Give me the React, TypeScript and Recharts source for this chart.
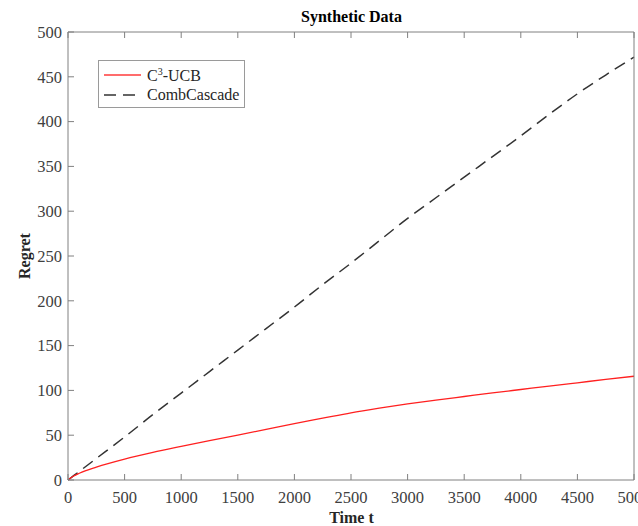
import { LineChart, Line, XAxis, YAxis } from 'recharts'

// time steps and regret
const steps = [0, 50, 100, 250, 500, 750, 1000, 1250, 1500, 1750, 2000, 2250, 2500, 2750, 3000, 3250, 3500, 3750, 4000, 4250, 4500, 4750, 5000]
const c3ucb = [0, 4.5, 7.5, 14.3, 23.3, 30.8, 37.5, 44, 50.2, 56.5, 63, 69, 75, 80.2, 85, 89.2, 93.2, 97.2, 101, 104.8, 108.5, 112.2, 115.8]
const combCascade = [0, 4.8, 9.6, 24, 48, 73, 97, 121, 145, 169, 193, 218, 242, 267, 292, 315, 338, 361, 384, 408, 431, 452, 472]
const xTicks = [0, 500, 1000, 1500, 2000, 2500, 3000, 3500, 4000, 4500, 5000]
const yTicks = [0, 50, 100, 150, 200, 250, 300, 350, 400, 450, 500]

const data = steps.map((t, i) => ({ t, ucb: c3ucb[i], comb: combCascade[i] }))

const font = '"Liberation Serif", "Times New Roman", serif'
const axisGray = '#808080'
const tickStyle = { fill: '#404040', fontSize: 16.5, fontFamily: font }

function LegendBox() {
  return (
    <div style={{
      position: 'absolute', left: 98, top: 60, width: 147, height: 48,
      border: '1px solid #9a9a9a', background: '#fff',
      fontFamily: font, fontSize: 16, color: '#262626', boxSizing: 'border-box', padding: '4px 0 0 5px',
    }}>
      <div style={{ display: 'flex', alignItems: 'center', height: 20 }}>
        <svg width={38} height={10}><line x1={0} y1={5} x2={37} y2={5} stroke="#ff3b3b" strokeWidth={1.5} /></svg>
        <span style={{ marginLeft: 5 }}>C<sup style={{ fontSize: 10, verticalAlign: 6 }}>3</sup>-UCB</span>
      </div>
      <div style={{ display: 'flex', alignItems: 'center', height: 20 }}>
        <svg width={38} height={10}><line x1={0} y1={5} x2={37} y2={5} stroke="#333" strokeWidth={1.5} strokeDasharray="12 7" /></svg>
        <span style={{ marginLeft: 5 }}>CombCascade</span>
      </div>
    </div>
  )
}

export default function App() {
  return (
    <div style={{ position: 'absolute', left: 0, top: 0, width: 638, height: 526, background: '#fff', overflow: 'hidden' }}>
      <div style={{
        position: 'absolute', left: 68, width: 567, top: 8, textAlign: 'center',
        fontFamily: font, fontWeight: 'bold', fontSize: 16, color: '#000',
      }}>Synthetic Data</div>
      <div style={{
        position: 'absolute', left: 68, width: 567, top: 509, textAlign: 'center',
        fontFamily: font, fontWeight: 'bold', fontSize: 16, color: '#262626',
      }}>Time t</div>
      <div style={{
        position: 'absolute', left: 25, top: 256, transform: 'translate(-50%, -50%) rotate(-90deg)',
        fontFamily: font, fontWeight: 'bold', fontSize: 16, color: '#262626', whiteSpace: 'nowrap',
      }}>Regret</div>
      <LineChart width={638} height={526} data={data} margin={{ top: 31, right: 3, bottom: 0, left: 0 }}>
        <XAxis dataKey="t" type="number" domain={[0, 5000]} ticks={xTicks} height={46}
          stroke={axisGray} tickSize={-6} tickMargin={17} tick={tickStyle} interval={0} />
        <XAxis xAxisId="top" orientation="top" dataKey="t" type="number" domain={[0, 5000]} ticks={xTicks}
          height={1} stroke={axisGray} tickSize={-6} tickFormatter={() => ''} interval={0} />
        <YAxis type="number" domain={[0, 500]} ticks={yTicks} width={68}
          stroke={axisGray} tickSize={-6} tickMargin={12} tick={tickStyle} interval={0} />
        <YAxis yAxisId="right" orientation="right" type="number" domain={[0, 500]} ticks={yTicks} width={1}
          stroke={axisGray} tickSize={-6} tickFormatter={() => ''} interval={0} />
        <Line dataKey="comb" type="monotone" stroke="#333" strokeWidth={1.5} strokeDasharray="12 7"
          dot={false} isAnimationActive={false} />
        <Line dataKey="ucb" type="monotone" stroke="#ff2020" strokeWidth={1.3}
          dot={false} isAnimationActive={false} />
      </LineChart>
      <LegendBox />
    </div>
  )
}
